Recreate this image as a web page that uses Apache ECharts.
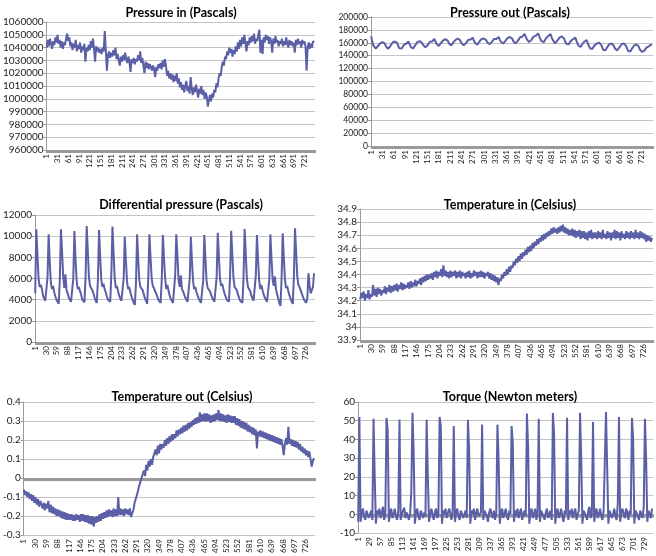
<!DOCTYPE html>
<html>
<head>
<meta charset="utf-8">
<script src="https://cdn.jsdelivr.net/npm/echarts@6.0.0/dist/echarts.min.js"></script>
<style>
html,body{margin:0;padding:0;background:#fff;}
#c{width:656px;height:556px;}
</style>
</head>
<body>
<div id="c"></div>
<script>
// ---- data ----
const categoryCount = 750;
const categories = Array.from({length: categoryCount}, (_, i) => String(i + 1));
const SAMPLE_STEP = 3; // one sample read every 3 categories

const titles = [
  'Pressure in (Pascals)',
  'Pressure out (Pascals)',
  'Differential pressure (Pascals)',
  'Temperature in (Celsius)',
  'Temperature out (Celsius)',
  'Torque (Newton meters)'
];

const pressureIn = [
1040000,1046000,1041000,1047000,1043000,1039000,1045000,1042000,1048000,1044000,
1050000,1043000,1046000,1040000,1045000,1039000,1044000,1042000,1047000,1051000,
1045000,1048000,1041000,1044000,1038000,1043000,1040000,1046000,1037000,1042000,
1039000,1044000,1036000,1041000,1038000,1043000,1029000,1040000,1037000,1042000,
1038000,1045000,1040000,1047000,1039000,1029000,1041000,1037000,1040000,1036000,
1039000,1035000,1040000,1037000,1053000,1038000,1022000,1034000,1037000,1032000,
1036000,1033000,1038000,1034000,1040000,1031000,1035000,1030000,1026000,1033000,
1029000,1034000,1030000,1036000,1031000,1028000,1033000,1029000,1021000,1031000,
1028000,1032000,1027000,1031000,1029000,1034000,1030000,1037000,1028000,1032000,
1026000,1020000,1029000,1024000,1028000,1023000,1027000,1025000,1022000,1026000,
1023000,1017000,1025000,1022000,1027000,1024000,1028000,1023000,1030000,1025000,
1031000,1026000,1018000,1022000,1016000,1020000,1015000,1019000,1013000,1018000,
1014000,1020000,1012000,1016000,1009000,1013000,1007000,1011000,1005000,1010000,
1014000,1006000,1010000,1004000,1017000,1008000,1003000,1009000,1005000,1011000,
1006000,1001000,1008000,1004000,1010000,1003000,1007000,1000000,1005000,1002000,
994000,999000,1003000,998000,1004000,1001000,1007000,1005000,1012000,1009000,
1016000,1020000,1018000,1025000,1029000,1026000,1033000,1031000,1037000,1034000,
1040000,1036000,1039000,1033000,1038000,1035000,1041000,1037000,1044000,1039000,
1046000,1041000,1048000,1043000,1050000,1044000,1037000,1045000,1042000,1048000,
1044000,1049000,1045000,1051000,1043000,1047000,1045000,1050000,1054000,1036000,
1046000,1035000,1048000,1044000,1050000,1046000,1049000,1043000,1048000,1045000,
1036000,1047000,1043000,1049000,1044000,1046000,1041000,1045000,1043000,1047000,
1041000,1045000,1042000,1048000,1043000,1040000,1046000,1042000,1045000,1041000,
1044000,1036000,1046000,1042000,1047000,1043000,1045000,1040000,1046000,1043000,
1045000,1041000,1022000,1040000,1044000,1039000,1043000,1040000,1045000,1044000
];

const pressureOut = [
170000,161000,156000,153000,151000,152500,155000,157500,159000,158000,161000,163000,
159000,155000,152000,150500,152000,155000,158000,160500,159000,162000,164000,
160000,155000,151500,150000,151000,154000,157000,159500,158500,160500,162000,
158000,154000,151000,151000,153000,156000,159000,161000,160000,162500,164000,
160000,156500,154000,153000,154000,156000,159000,161500,163000,162000,164500,166000,
162000,158000,155500,155000,157000,160000,162500,164000,163000,165500,167500,
163000,159000,156500,156000,158000,161000,163500,165000,164000,166500,168000,
163500,159500,157000,156000,157000,159500,162000,164500,166000,165000,166500,168000,
163500,160000,157500,157000,159000,162000,164500,166000,165000,166500,168000,
164000,160500,158500,158000,159000,161500,164000,166000,167000,166000,167500,169000,
165000,161500,159500,158800,160000,163000,165500,167500,167000,169000,170600,
166500,162500,160000,159000,160500,163000,166000,168500,170000,169500,172000,174000,
169500,165500,162500,161000,162000,164500,167000,169500,171500,171000,173000,174700,
170000,166000,162500,160000,161000,164000,167000,169500,170500,172000,173700,
168500,164500,161500,159000,160500,163500,166000,168000,168500,170000,171600,
166500,162000,158500,156000,157500,160500,163000,165000,165500,166500,168000,
163000,158500,155000,152000,154000,157500,160500,162000,163000,164000,
159500,155000,151500,149500,150500,153500,156000,158000,159000,158500,160000,161300,
156500,152000,148500,147000,149000,152500,155500,157500,158000,159000,160000,
155500,151500,148500,148000,150000,153000,156000,157500,158000,159000,160000,
155000,150500,147000,145000,147000,150500,153500,155500,156500,157500,158800,
154500,150000,147000,146000,145500,147500,150500,152500,154000,154500,156000,157000,157500
];

const diffPressure = [
4600,
10640,8300,6000,5200,5400,5000,4400,4100,3900,3850,6100,
10170,7600,5600,5000,5300,4700,4300,4000,3800,3600,5900,
10640,8500,6200,5100,6400,4900,4600,4200,4000,3800,3700,6000,
10480,7900,5800,5000,5200,4800,4500,4000,3900,3750,6200,
10960,8600,6100,5300,5100,4900,4600,4200,3900,3700,5800,
10580,8100,5900,5200,5500,5000,4700,4300,4000,3850,3800,6400,
10900,8400,6000,5100,5300,4800,4400,4100,3900,3800,6000,
9950,7700,5700,5000,5200,4700,4300,4000,3700,3500,5600,
10170,7800,5800,5200,5300,4900,4500,4100,3900,3600,6100,
10170,8000,6000,5300,5100,4800,4600,4300,4000,3900,3700,5900,
10100,7900,6100,5000,5400,4900,4400,4100,3900,3700,3800,6300,
10170,8200,5900,5200,6300,5000,4800,4500,4200,4000,3800,3700,6000,
9950,7600,5700,5000,5200,4700,4400,4100,3900,3700,3600,5800,
10100,7900,5800,5100,5000,4800,4500,4200,4000,3800,3700,6100,
10330,8100,6000,5300,5500,5000,4600,4300,4000,3900,3800,6200,
10500,8300,6100,5200,5300,4900,4500,4200,3900,3800,3700,6000,
10670,8400,6000,5200,5100,4800,4400,4100,3900,3800,6300,
10100,7800,5800,5000,5400,4900,4500,4200,4000,3800,3700,5900,
10170,7900,5900,5300,6200,5000,4500,4100,3700,3400,6000,
10260,8000,5900,5100,5300,4800,4400,4100,3800,3600,6200,
10740,8500,6200,5400,5200,4900,4600,4300,4000,3900,3700,4200,6500,5300,4600,4900,5200,6500
];

const tempIn = [
34.21,34.26,34.22,34.27,34.20,34.25,34.22,34.28,34.21,34.25,
34.23,34.32,34.24,34.29,34.23,34.30,34.25,34.29,34.24,34.28,
34.26,34.31,34.25,34.30,34.27,34.32,34.26,34.31,34.27,34.32,
34.28,34.33,34.27,34.32,34.29,34.34,34.28,34.33,34.29,34.32,
34.30,34.34,34.29,34.35,34.30,34.34,34.31,34.36,34.31,34.35,
34.33,34.37,34.32,34.38,34.34,34.39,34.35,34.40,34.36,34.40,
34.37,34.41,34.36,34.42,34.38,34.43,34.37,34.42,34.39,34.44,
34.38,34.47,34.39,34.43,34.38,34.42,34.37,34.43,34.38,34.42,
34.39,34.43,34.37,34.42,34.38,34.43,34.37,34.42,34.39,34.41,
34.37,34.42,34.38,34.43,34.37,34.41,34.38,34.43,34.39,34.42,
34.37,34.42,34.38,34.43,34.38,34.42,34.37,34.41,34.39,34.42,
34.37,34.41,34.36,34.40,34.35,34.39,34.34,34.38,34.32,34.37,
34.35,34.40,34.37,34.42,34.39,34.44,34.40,34.46,34.42,34.47,
34.45,34.50,34.47,34.52,34.49,34.54,34.50,34.56,34.52,34.57,
34.54,34.59,34.55,34.61,34.57,34.62,34.58,34.64,34.60,34.65,
34.62,34.67,34.63,34.68,34.65,34.70,34.66,34.71,34.67,34.72,
34.69,34.73,34.70,34.75,34.71,34.76,34.72,34.75,34.71,34.76,
34.72,34.77,34.73,34.78,34.72,34.76,34.71,34.75,34.70,34.74,
34.70,34.75,34.69,34.74,34.68,34.73,34.69,34.74,34.67,34.73,
34.68,34.73,34.67,34.72,34.66,34.73,34.68,34.74,34.67,34.72,
34.68,34.72,34.67,34.73,34.68,34.72,34.67,34.74,34.68,34.71,
34.67,34.73,34.68,34.72,34.66,34.72,34.68,34.74,34.67,34.73,
34.68,34.72,34.66,34.73,34.68,34.71,34.67,34.73,34.68,34.72,
34.67,34.73,34.68,34.72,34.67,34.74,34.68,34.72,34.67,34.73,
34.68,34.72,34.67,34.71,34.65,34.70,34.66,34.69,34.65,34.68
];

const tempOut = [
-0.06,-0.09,-0.07,-0.1,-0.075,-0.11,-0.085,-0.12,-0.09,-0.13,
-0.1,-0.14,-0.11,-0.15,-0.12,-0.11,-0.16,-0.13,-0.17,-0.135,
-0.16,-0.12,-0.18,-0.14,-0.185,-0.15,-0.19,-0.16,-0.2,-0.165,
-0.2,-0.17,-0.21,-0.175,-0.215,-0.18,-0.22,-0.185,-0.22,-0.19,
-0.22,-0.19,-0.225,-0.195,-0.225,-0.19,-0.22,-0.195,-0.23,-0.19,
-0.225,-0.19,-0.23,-0.195,-0.235,-0.195,-0.24,-0.2,-0.245,-0.2,
-0.255,-0.205,-0.235,-0.2,-0.23,-0.19,-0.225,-0.185,-0.215,-0.18,
-0.21,-0.17,-0.205,-0.165,-0.2,-0.17,-0.205,-0.16,-0.2,-0.165,
-0.2,-0.1,-0.195,-0.16,-0.195,-0.165,-0.2,-0.16,-0.19,-0.165,
-0.195,-0.16,-0.205,-0.185,-0.17,-0.13,-0.13,-0.09,-0.09,-0.04,
-0.05,0.0,-0.01,0.04,0.01,0.07,0.04,0.09,0.06,0.1,
0.07,0.11,0.12,0.15,0.12,0.17,0.13,0.18,0.15,0.18,
0.16,0.2,0.17,0.21,0.18,0.22,0.19,0.23,0.2,0.23,
0.21,0.25,0.22,0.255,0.23,0.265,0.235,0.275,0.245,0.28,
0.25,0.29,0.26,0.295,0.27,0.305,0.28,0.315,0.285,0.32,
0.29,0.345,0.295,0.335,0.3,0.34,0.295,0.34,0.3,0.335,
0.29,0.33,0.295,0.335,0.3,0.34,0.305,0.358,0.3,0.34,
0.3,0.335,0.295,0.33,0.29,0.335,0.295,0.33,0.29,0.325,
0.29,0.325,0.28,0.315,0.275,0.31,0.265,0.3,0.26,0.295,
0.255,0.29,0.245,0.28,0.24,0.27,0.23,0.265,0.225,0.255,
0.156,0.245,0.22,0.25,0.215,0.245,0.21,0.24,0.205,0.235,
0.2,0.23,0.195,0.225,0.19,0.22,0.185,0.215,0.18,0.21,
0.175,0.205,0.17,0.12,0.18,0.21,0.175,0.27,0.18,0.205,
0.17,0.2,0.165,0.195,0.16,0.19,0.15,0.18,0.14,0.165,
0.13,0.155,0.12,0.145,0.11,0.14,0.1,0.06,0.09,0.105
];

const torque = [
-4,
52,-4,1,3,-1,-3,2,3,-2,0,2,-3,
51,20,-5,2,0,3,-2,1,4,-3,0,
51.5,45,-4,1,3,-2,0,3,-1,-3,2,
50.7,-3,0,2,3.5,-2,1,2,-3,0,12,
54.3,33,-5,1,3,-1,-3,2,3,-2,1,-1,
50.5,21,-4,0,3,2,-3,1,3,-2,0,
52,47,-5,2,0,3,-2,-1,3,1,-3,1,
47.2,-4,1,3,-1,-3,2,3,-2,0,2,-2,
50.5,35,-5,2,0,3,-3,1,3,-1,-2,1,
48,-3,2,3,-1,-4,1,3,0,-2,2,-3,1,
47.9,29,-5,1,3,-2,0,3,-1,-3,2,0,
47.2,38,-4,2,-1,3,-2,1,3,-3,0,2,-1,
53.8,36,-5,1,3,-2,0,3,-3,1,
51,-4,2,3,-1,-3,1,3,-2,0,2,-3,
54.1,43,-5,1,3,-2,0,3,-1,-4,2,0,
51.6,-3,2,0,3,-2,1,3,-3,0,2,
54.3,30,-5,2,3,-1,-3,2,4,-2,0,
49.3,-4,1,3,-2,0,3,-1,-3,2,1,
54.7,25,-5,2,3,-2,0,3,-1,-3,6,
52,-4,1,3,0,-2,3,1,-3,2,0,
51.4,40,-5,2,3,-1,-3,2,3,-2,4,
51.1,30,-4,2,3,-2,3
];

// y-axis ranges [min, max, interval]
const yRanges = [
  [960000, 1060000, 10000],
  [0, 200000, 20000],
  [0, 12000, 2000],
  [33.9, 34.9, 0.1],
  [-0.3, 0.4, 0.1],
  [-10, 60, 10]
];
// category label interval (every n+1 categories)
const labelSkips = [29, 29, 28, 28, 28, 27];

// ---- layout ----
const seriesData = [pressureIn, pressureOut, diffPressure, tempIn, tempOut, torque];
const boxes = [
  [38, 22, 277, 128],
  [371, 17, 282, 129],
  [29, 215, 286, 127],
  [360, 209, 293, 131],
  [22, 402, 293, 149],
  [358, 402, 295, 131]
];
const yLabelSizes = [10, 8.5, 10, 10, 10, 10];
const titlePos = [[176, 1], [505, 1], [176, 193], [505, 193], [177, 385], [505, 385]];

const FONT = 'Lato, "Open Sans", sans-serif';
const LINE = '#5b5fa6';
const AXIS = '#9a9a9a';
const GRIDC = '#c4c4c4';

const option = {
  backgroundColor: '#fff',
  animation: false,
  title: titles.map((t, k) => ({
    text: t, left: titlePos[k][0], top: titlePos[k][1], textAlign: 'center',
    textStyle: {fontFamily: FONT, fontSize: 12.5, fontWeight: 'bold', color: '#000'}
  })),
  grid: boxes.map(b => ({left: b[0], top: b[1], width: b[2], height: b[3], containLabel: false})),
  xAxis: boxes.map((b, k) => ({
    type: 'category', gridIndex: k, data: categories, boundaryGap: true,
    axisLine: {show: true, onZero: true, lineStyle: {color: AXIS, width: 1}},
    axisTick: {show: true, interval: 0, length: 3, lineStyle: {color: AXIS, width: 1}},
    axisLabel: {interval: labelSkips[k], rotate: 90, fontSize: 8, color: '#222', margin: 4, fontFamily: FONT},
    splitLine: {show: false}
  })),
  yAxis: boxes.map((b, k) => ({
    type: 'value', gridIndex: k, min: yRanges[k][0], max: yRanges[k][1], interval: yRanges[k][2],
    axisLine: {show: true, lineStyle: {color: AXIS, width: 1}},
    axisTick: {show: true, length: 3, lineStyle: {color: AXIS}},
    axisLabel: {fontSize: yLabelSizes[k], color: '#222', margin: 3, fontFamily: FONT,
      formatter: v => String(Math.round(v * 1000) / 1000)},
    splitLine: {show: true, lineStyle: {color: GRIDC, width: 1}}
  })),
  series: seriesData.map((arr, k) => ({
    type: 'line', xAxisIndex: k, yAxisIndex: k,
    data: arr.map((v, i) => [i * SAMPLE_STEP, v]),
    showSymbol: false, symbol: 'none',
    lineStyle: {color: LINE, width: 2},
    itemStyle: {color: LINE}
  }))
};

const chart = echarts.init(document.getElementById('c'));
chart.setOption(option);
</script>
</body>
</html>
